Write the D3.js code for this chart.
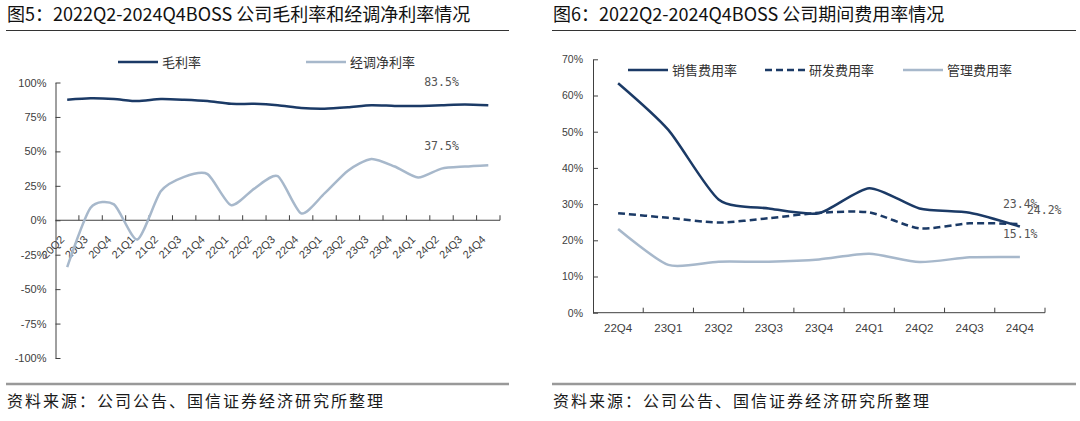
<!DOCTYPE html>
<html>
<head>
<meta charset="utf-8">
<script src="https://cdn.jsdelivr.net/npm/d3@7.9.0/dist/d3.min.js"></script>
<style>
  body { margin: 0; background: #fff; }
  svg { display: block; font-family: "Noto Sans CJK SC", sans-serif; }
  .tick text { font-family: "Liberation Sans", Arial, sans-serif; fill: #404040; }
</style>
</head>
<body>
<svg id="chart" width="1080" height="421"></svg>
<script>
// left chart: 毛利率 / 经调净利率
const quartersA = ['20Q2','20Q3','20Q4','21Q1','21Q2','21Q3','21Q4','22Q1','22Q2','22Q3',
  '22Q4','23Q1','23Q2','23Q3','23Q4','24Q1','24Q2','24Q3','24Q4'];
const grossMargin = [87.5, 88.5, 88, 86.5, 88, 87.5, 86.5, 84.5, 84.5, 83.5,
  81.5, 81, 82, 83.5, 83, 83, 83.5, 84, 83.5];
const adjNetMargin = [-34, 9, 11.5, -14, 21, 31.5, 33.5, 11, 23, 32,
  5, 19.5, 36, 44.5, 39, 31, 37.5, 39, 40];
const ticksA = [-100, -75, -50, -25, 0, 25, 50, 75, 100];

// right chart: 期间费用率
const quartersB = ['22Q4','23Q1','23Q2','23Q3','23Q4','24Q1','24Q2','24Q3','24Q4'];
const salesRate = [63.4, 50.5, 31.3, 28.8, 27.5, 34.4, 28.8, 27.6, 23.8];
const rdRate = [27.5, 26.2, 24.9, 26.1, 27.6, 27.7, 23.3, 24.7, 24.5];
const adminRate = [23.1, 13.2, 14.1, 14.1, 14.7, 16.3, 14.0, 15.3, 15.4];
const ticksB = [0, 10, 20, 30, 40, 50, 60, 70];

const dark = '#1b3a66';
const light = '#a7b8cb';
const svg = d3.select('#chart');

function header(x0, x1, title) {
  svg.append('text').attr('x', x0 + 1).attr('y', 21)
    .attr('font-size', 18).attr('fill', '#111').text(title);
  svg.append('line').attr('x1', x0).attr('x2', x1).attr('y1', 30.5).attr('y2', 30.5)
    .attr('stroke', '#333').attr('stroke-width', 1);
  svg.append('line').attr('x1', x0).attr('x2', x1).attr('y1', 384).attr('y2', 384)
    .attr('stroke', '#999').attr('stroke-width', 2.5);
  svg.append('text').attr('x', x0 + 1).attr('y', 407)
    .attr('font-size', 16).attr('letter-spacing', 2).attr('fill', '#1a1a1a')
    .text('资料来源：公司公告、国信证券经济研究所整理');
}

function legendItem(x, y, label, color, dash) {
  svg.append('line').attr('x1', x).attr('x2', x + 40).attr('y1', y).attr('y2', y)
    .attr('stroke', color).attr('stroke-width', 2.5)
    .attr('stroke-dasharray', dash || null);
  svg.append('text').attr('x', x + 44).attr('y', y + 4.5)
    .attr('font-size', 13).attr('fill', '#333').text(label);
}

const curve = d3.curveCardinal.tension(0.3);

// ---------- left ----------
header(6, 509, '图5：2022Q2-2024Q4BOSS 公司毛利率和经调净利率情况');

const xA = d3.scaleBand().domain(quartersA).range([55.5, 500]);
const yA = d3.scaleLinear().domain([-100, 100]).range([358, 82.5]);

svg.append('g').attr('transform', 'translate(55.5,0)')
  .call(d3.axisLeft(yA).tickValues(ticksA).tickSize(-5).tickSizeOuter(0).tickPadding(9)
    .tickFormat(d => d + '%'))
  .call(g => g.selectAll('line,path').attr('stroke', '#404040'))
  .call(g => g.selectAll('text').attr('font-size', 11));

const axA = svg.append('g');
axA.append('line').attr('x1', 55.5).attr('x2', 500).attr('y1', yA(0)).attr('y2', yA(0))
  .attr('stroke', '#404040');
axA.selectAll('.tk').data(quartersA).join('line')
  .attr('x1', d => xA(d) + xA.bandwidth()).attr('x2', d => xA(d) + xA.bandwidth())
  .attr('y1', yA(0)).attr('y2', yA(0) - 5).attr('stroke', '#404040');
axA.selectAll('text').data(quartersA).join('text')
  .attr('transform', d => `translate(${xA(d) + xA.bandwidth() / 2 - 2},${yA(0) + 20}) rotate(-45)`)
  .attr('text-anchor', 'end')
  .attr('font-family', 'Liberation Sans, Arial, sans-serif')
  .attr('font-size', 11).attr('fill', '#404040').text(d => d);

const lineA = (vals) => d3.line()
  .x((d, i) => xA(quartersA[i]) + xA.bandwidth() / 2)
  .y(d => yA(d)).curve(curve)(vals);

svg.append('path').attr('d', lineA(adjNetMargin)).attr('fill', 'none')
  .attr('stroke', light).attr('stroke-width', 2.5);
svg.append('path').attr('d', lineA(grossMargin)).attr('fill', 'none')
  .attr('stroke', dark).attr('stroke-width', 2.5);

legendItem(118, 62, '毛利率', dark);
legendItem(306, 62, '经调净利率', light);

const labA = [83.5, 37.5];
svg.selectAll('.labA').data(labA).join('text')
  .attr('x', xA('24Q2') + xA.bandwidth() / 2).attr('y', d => yA(d) - 19)
  .attr('text-anchor', 'middle').attr('font-family', 'DejaVu Sans Mono, monospace')
  .attr('font-size', 11.5).attr('fill', '#555').text(d => d.toFixed(1) + '%');

// ---------- right ----------
header(552, 1076, '图6：2022Q2-2024Q4BOSS 公司期间费用率情况');

const xB = d3.scaleBand().domain(quartersB).range([593, 1045]);
const yB = d3.scaleLinear().domain([0, 70]).range([312.7, 59.3]);

svg.append('g').attr('transform', 'translate(593,0)')
  .call(d3.axisLeft(yB).tickValues(ticksB).tickSize(-5).tickSizeOuter(0).tickPadding(10)
    .tickFormat(d => d + '%'))
  .call(g => g.selectAll('line,path').attr('stroke', '#404040'))
  .call(g => g.selectAll('text').attr('font-size', 10.5));

const axB = svg.append('g');
axB.append('line').attr('x1', 593).attr('x2', 1045).attr('y1', yB(0)).attr('y2', yB(0))
  .attr('stroke', '#404040');
axB.selectAll('.tk').data(quartersB).join('line')
  .attr('x1', d => xB(d) + xB.bandwidth()).attr('x2', d => xB(d) + xB.bandwidth())
  .attr('y1', yB(0)).attr('y2', yB(0) - 5).attr('stroke', '#404040');
axB.selectAll('text').data(quartersB).join('text')
  .attr('x', d => xB(d) + xB.bandwidth() / 2).attr('y', 332)
  .attr('text-anchor', 'middle')
  .attr('font-family', 'Liberation Sans, Arial, sans-serif')
  .attr('font-size', 11.5).attr('fill', '#404040').text(d => d);

const lineB = (vals) => d3.line()
  .x((d, i) => xB(quartersB[i]) + xB.bandwidth() / 2)
  .y(d => yB(d)).curve(curve)(vals);

svg.append('path').attr('d', lineB(adminRate)).attr('fill', 'none')
  .attr('stroke', light).attr('stroke-width', 2.5);
svg.append('path').attr('d', lineB(rdRate)).attr('fill', 'none')
  .attr('stroke', dark).attr('stroke-width', 2.5).attr('stroke-dasharray', '7,4');
svg.append('path').attr('d', lineB(salesRate)).attr('fill', 'none')
  .attr('stroke', dark).attr('stroke-width', 2.5);

legendItem(628, 70, '销售费用率', dark);
legendItem(765, 70, '研发费用率', dark, '7,4');
legendItem(903, 70, '管理费用率', light);

// end labels; the first two overlap in the source too
const labB = [
  { v: 23.4, dx: -17, dy: -20 },
  { v: 24.2, dx: 7, dy: -11 },
  { v: 15.1, dx: -17, dy: -20 },
];
const lastB = xB('24Q4') + xB.bandwidth() / 2;
svg.selectAll('.labB').data(labB).join('text')
  .attr('x', d => lastB + d.dx).attr('y', d => yB(d.v) + d.dy)
  .attr('font-family', 'DejaVu Sans Mono, monospace')
  .attr('font-size', 11.5).attr('fill', '#555').text(d => d.v.toFixed(1) + '%');
</script>
</body>
</html>
